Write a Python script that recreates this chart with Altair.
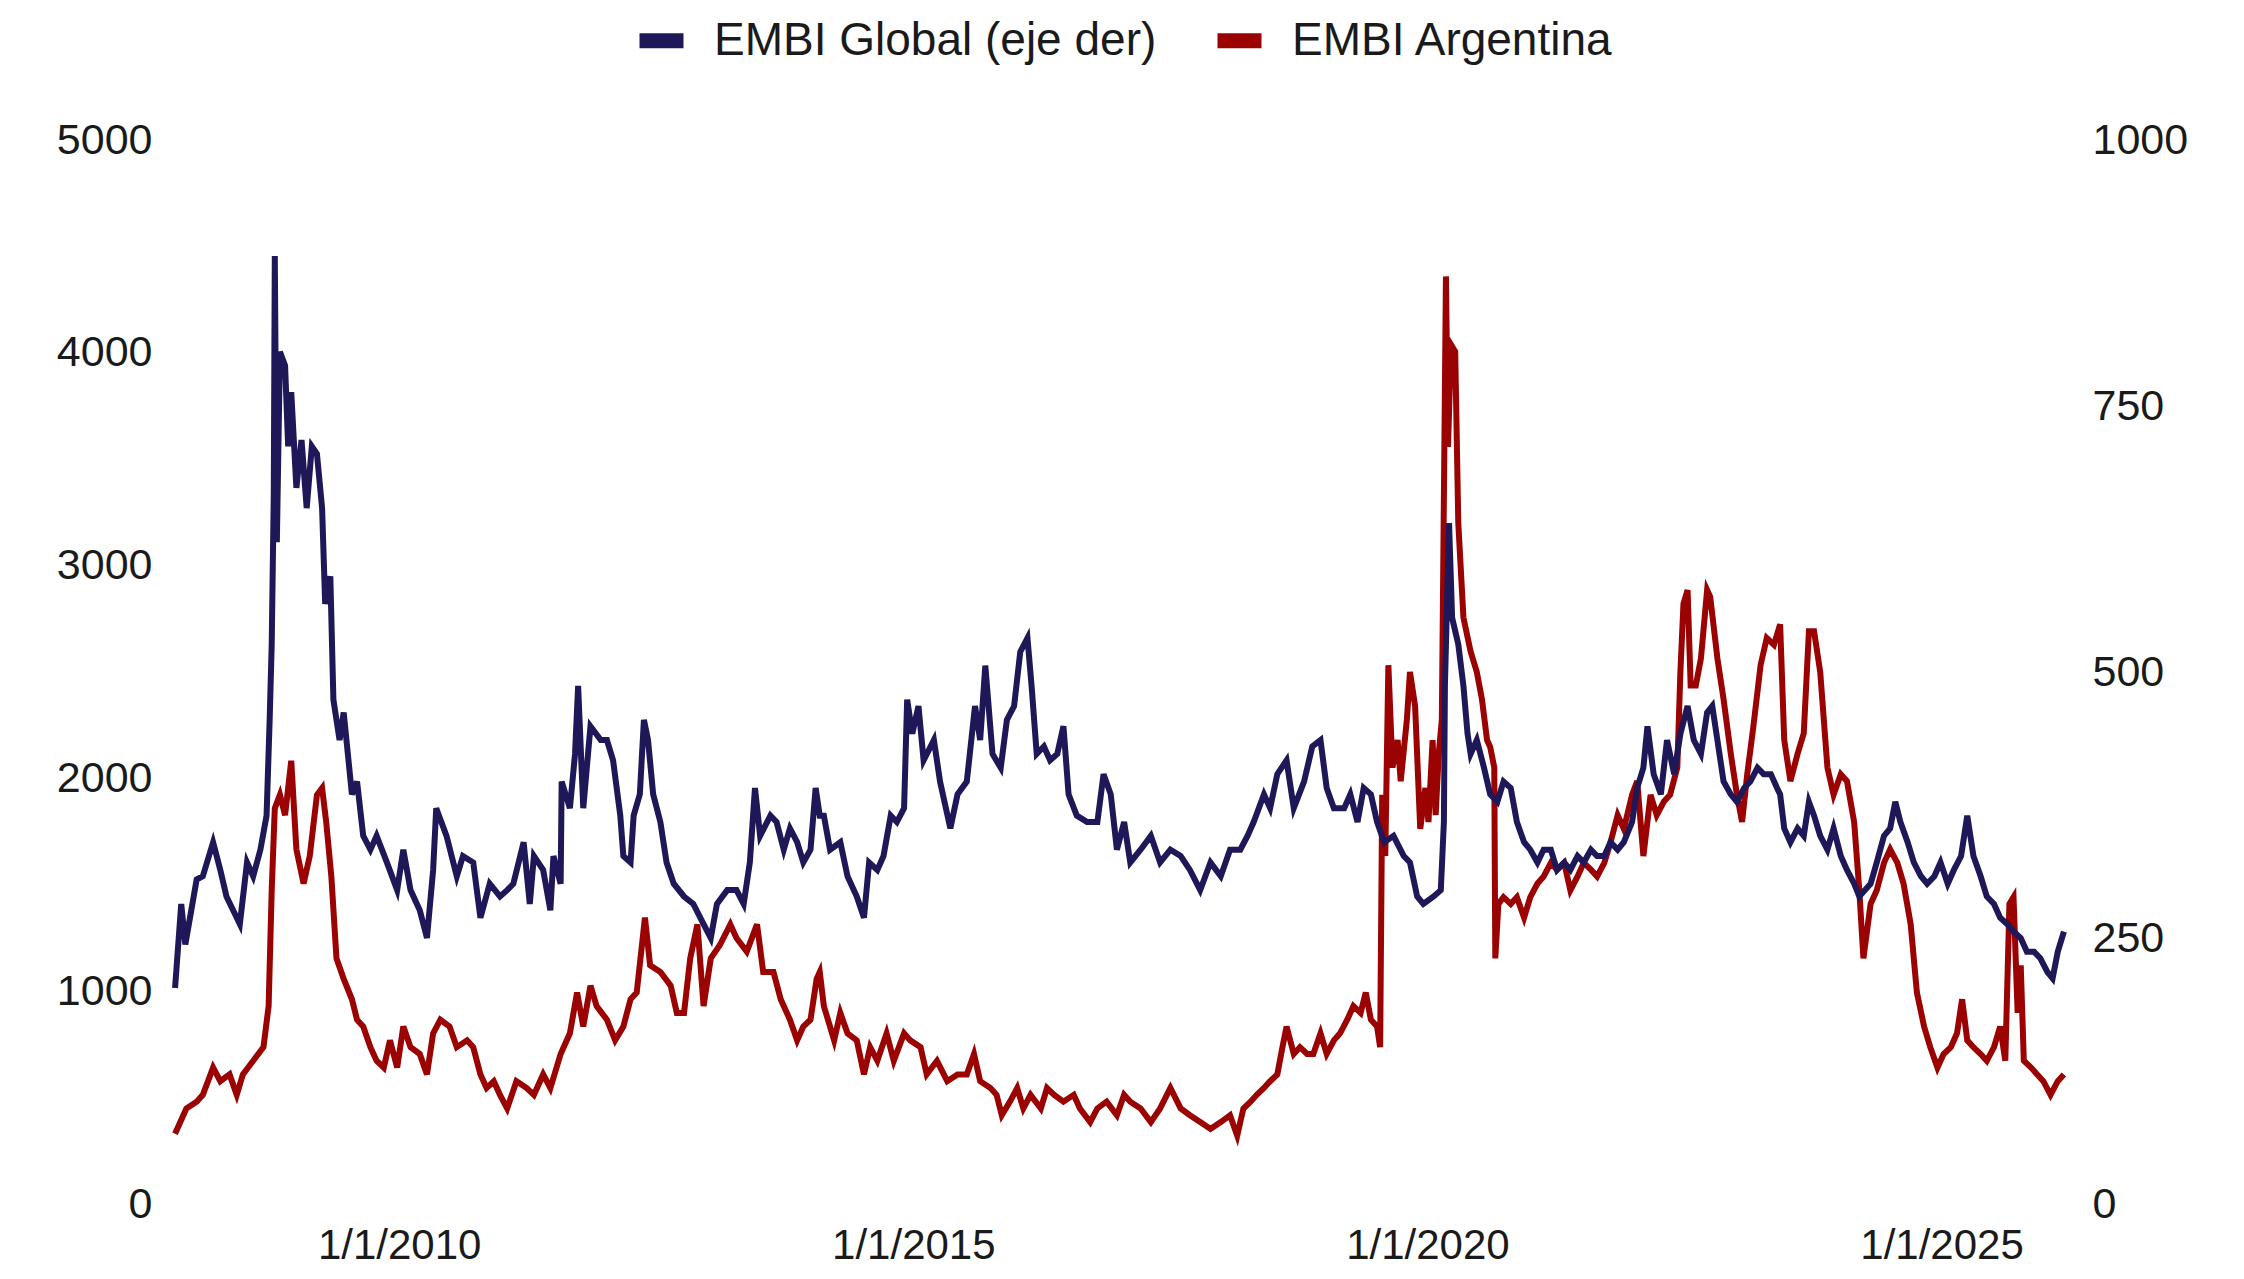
import altair as alt
import pandas as pd

# ---- EMBI Global (right axis, bp) : decimal year, value ----
global_year = [
    2007.82, 2007.88, 2007.92, 2008.03, 2008.09, 2008.19, 2008.26, 2008.32, 2008.42, 2008.45,
    2008.52, 2008.58, 2008.65, 2008.71, 2008.74, 2008.76, 2008.78, 2008.79, 2008.81, 2008.84,
    2008.89, 2008.92, 2008.95, 2009.00, 2009.05, 2009.10, 2009.15, 2009.20, 2009.25, 2009.28,
    2009.33, 2009.36, 2009.42, 2009.46, 2009.54, 2009.59, 2009.65, 2009.72, 2009.78, 2009.88,
    2009.98, 2010.04, 2010.11, 2010.20, 2010.27, 2010.33, 2010.36, 2010.46, 2010.56, 2010.62,
    2010.72, 2010.79, 2010.88, 2010.98,
    2011.05, 2011.11, 2011.21, 2011.27, 2011.31, 2011.40, 2011.47, 2011.50, 2011.57, 2011.58,
    2011.66, 2011.71, 2011.74, 2011.79, 2011.86, 2011.96, 2012.02, 2012.08, 2012.15, 2012.18,
    2012.25, 2012.28, 2012.34, 2012.38, 2012.42, 2012.47, 2012.54, 2012.60, 2012.67, 2012.77,
    2012.86, 2012.96, 2013.03, 2013.09, 2013.19, 2013.28, 2013.35, 2013.41, 2013.46, 2013.51,
    2013.61, 2013.67, 2013.74, 2013.80, 2013.87, 2013.93, 2014.00, 2014.05, 2014.09,
    2014.13, 2014.19, 2014.29, 2014.36, 2014.45, 2014.52, 2014.57, 2014.65, 2014.71, 2014.78,
    2014.84, 2014.91, 2014.94, 2014.99, 2015.05, 2015.10, 2015.20, 2015.26, 2015.36, 2015.43,
    2015.52, 2015.60, 2015.65, 2015.70, 2015.77, 2015.85, 2015.91, 2015.98, 2016.04, 2016.11,
    2016.15, 2016.20, 2016.27, 2016.33, 2016.40, 2016.46, 2016.51, 2016.59, 2016.69, 2016.79,
    2016.85, 2016.92, 2016.98, 2017.05, 2017.11, 2017.21,
    2017.31, 2017.40, 2017.50, 2017.60, 2017.69, 2017.79, 2017.89, 2017.99, 2018.08, 2018.18,
    2018.25, 2018.31, 2018.41, 2018.47, 2018.54, 2018.63, 2018.70, 2018.80, 2018.88, 2018.96,
    2019.02, 2019.09, 2019.19, 2019.25, 2019.32, 2019.38, 2019.45, 2019.51, 2019.58, 2019.67,
    2019.77, 2019.83, 2019.90, 2019.96, 2020.06, 2020.13, 2020.16, 2020.17, 2020.21, 2020.24,
    2020.30, 2020.35, 2020.39, 2020.42, 2020.48, 2020.55, 2020.61, 2020.68, 2020.74, 2020.81,
    2020.87, 2020.94, 2021.00, 2021.07, 2021.13, 2021.20, 2021.26, 2021.33, 2021.39, 2021.46,
    2021.52, 2021.59, 2021.65, 2021.72, 2021.78, 2021.85, 2021.91, 2021.99, 2022.04, 2022.10,
    2022.14, 2022.20, 2022.27, 2022.33, 2022.40, 2022.46, 2022.53, 2022.59, 2022.66, 2022.72,
    2022.77, 2022.82, 2022.88, 2022.95, 2023.01, 2023.08, 2023.14, 2023.21, 2023.27, 2023.34,
    2023.40, 2023.43, 2023.47, 2023.53, 2023.60, 2023.66, 2023.71, 2023.76, 2023.82, 2023.89,
    2023.95, 2024.02, 2024.08, 2024.15, 2024.20, 2024.31, 2024.37, 2024.44, 2024.50, 2024.55,
    2024.60, 2024.67, 2024.73, 2024.80, 2024.86, 2024.93, 2024.99, 2025.06, 2025.12, 2025.19,
    2025.25, 2025.31, 2025.38, 2025.44, 2025.51, 2025.57, 2025.64, 2025.70, 2025.77, 2025.83,
    2025.90, 2025.96, 2026.03, 2026.08, 2026.13, 2026.19,
]
global_value = [
    203, 282, 244, 305, 308, 340, 314, 289, 269, 263,
    321, 308, 333, 365, 455, 526, 667, 891, 622, 801,
    788, 712, 763, 673, 718, 654, 712, 705, 654, 564,
    590, 474, 436, 462, 385, 397, 346, 333, 346, 321,
    295, 333, 295, 276, 250, 314, 372, 346, 308, 327,
    321, 269, 301, 289,
    295, 301, 340, 282, 327, 314, 276, 327, 301, 397,
    372, 423, 487, 372, 449, 436, 436, 417, 365, 327,
    321, 365, 385, 455, 436, 385, 359, 321, 301, 289,
    282, 263, 250, 282, 295, 295, 282, 321, 391, 346,
    365, 359, 333, 353, 340, 321, 333, 391, 365,
    365, 333, 340, 308, 289, 269, 321, 314, 327, 365,
    359, 372, 474, 442, 468, 417, 436, 397, 353, 385,
    397, 468, 436, 506, 423, 410, 455, 468, 519, 532,
    487, 423, 430, 417, 423, 449, 385, 365, 359, 359,
    404, 385, 333, 359, 321, 333,
    346, 321, 333, 327, 314, 295, 321, 308, 333, 333,
    346, 359, 385, 372, 404, 417, 372, 397, 430, 436,
    391, 372, 372, 385, 359, 391, 385, 359, 340, 346,
    327, 321, 289, 282, 289, 295, 359, 487, 640, 551,
    526, 487, 442, 423, 436, 410, 385, 378, 397, 391,
    359, 340, 333, 321, 333, 333, 314, 321, 314, 327,
    321, 333, 327, 327, 340, 333, 340, 359, 391, 410,
    449, 404, 385, 436, 404, 442, 468, 436, 423, 462,
    468, 436, 397, 385, 378, 391, 397, 410, 404, 404,
    391, 385, 353, 340, 353, 346, 378, 365, 346, 333,
    353, 327, 314, 301, 289, 301, 321, 346, 353, 378,
    359, 340, 321, 308, 301, 308, 321, 301, 314, 327,
    365, 327, 308, 289, 282, 269, 263, 256, 250, 237,
    237, 231, 218, 212, 237, 256,
]

# ---- EMBI Argentina (left axis, bp) : decimal year, value ----
arg_year = [
    2007.82, 2007.93, 2008.03, 2008.09, 2008.19, 2008.26, 2008.35, 2008.42, 2008.48, 2008.58,
    2008.68, 2008.73, 2008.76, 2008.79, 2008.84, 2008.89, 2008.95, 2009.00, 2009.07, 2009.13,
    2009.20, 2009.25, 2009.29, 2009.34, 2009.39, 2009.46, 2009.54, 2009.59, 2009.65, 2009.72,
    2009.78, 2009.85, 2009.91, 2009.98, 2010.04, 2010.11, 2010.20, 2010.27, 2010.33, 2010.40,
    2010.49, 2010.56, 2010.66, 2010.72, 2010.79, 2010.85, 2010.92, 2010.98,
    2011.05, 2011.14, 2011.24, 2011.31, 2011.40, 2011.47, 2011.57, 2011.66, 2011.73, 2011.79,
    2011.86, 2011.92, 2012.02, 2012.10, 2012.18, 2012.25, 2012.31, 2012.39, 2012.44, 2012.54,
    2012.64, 2012.70, 2012.77, 2012.83, 2012.90, 2012.96, 2013.03, 2013.12, 2013.22, 2013.28,
    2013.38, 2013.48, 2013.54, 2013.64, 2013.71, 2013.80, 2013.87, 2013.93, 2014.00, 2014.06,
    2014.09,
    2014.13, 2014.23, 2014.29, 2014.36, 2014.45, 2014.52, 2014.58, 2014.65, 2014.74, 2014.81,
    2014.91, 2014.97, 2015.07, 2015.13, 2015.23, 2015.33, 2015.43, 2015.52, 2015.59, 2015.65,
    2015.75, 2015.81, 2015.86, 2015.94, 2016.01, 2016.07, 2016.14, 2016.24, 2016.30, 2016.37,
    2016.46, 2016.56, 2016.62, 2016.72, 2016.79, 2016.88, 2016.98, 2017.05, 2017.11, 2017.21,
    2017.31, 2017.40, 2017.50, 2017.60, 2017.69, 2017.79, 2017.89, 2017.99, 2018.08, 2018.15,
    2018.21, 2018.28, 2018.34, 2018.41, 2018.47, 2018.54, 2018.59, 2018.63, 2018.70, 2018.76,
    2018.83, 2018.89, 2018.96, 2019.02, 2019.09, 2019.15, 2019.22, 2019.28, 2019.35, 2019.40,
    2019.45, 2019.51, 2019.54, 2019.56, 2019.59, 2019.62, 2019.66, 2019.71, 2019.74, 2019.80,
    2019.83, 2019.88, 2019.93, 2019.98, 2020.01, 2020.05, 2020.08, 2020.11, 2020.14, 2020.18,
    2020.20, 2020.23, 2020.27, 2020.30, 2020.35, 2020.42, 2020.48, 2020.53, 2020.58, 2020.61,
    2020.65, 2020.66, 2020.69, 2020.74, 2020.81, 2020.87, 2020.94, 2021.00, 2021.07, 2021.13,
    2021.20, 2021.26, 2021.33, 2021.39, 2021.46, 2021.52, 2021.59, 2021.65, 2021.72, 2021.78,
    2021.85, 2021.91, 2021.99, 2022.04, 2022.10, 2022.17, 2022.23, 2022.30, 2022.36, 2022.43,
    2022.46, 2022.49, 2022.53, 2022.56, 2022.61, 2022.66, 2022.72, 2022.75, 2022.82, 2022.88,
    2022.95, 2023.01, 2023.06, 2023.11, 2023.17, 2023.24, 2023.30, 2023.37, 2023.43,
    2023.47, 2023.53, 2023.60, 2023.66, 2023.71, 2023.76, 2023.82, 2023.89, 2023.95, 2024.02,
    2024.08, 2024.15, 2024.20, 2024.24, 2024.31, 2024.37, 2024.44, 2024.50, 2024.57, 2024.63,
    2024.70, 2024.76, 2024.83, 2024.89, 2024.96, 2025.02, 2025.09, 2025.15, 2025.20, 2025.25,
    2025.31, 2025.38, 2025.44, 2025.51, 2025.57, 2025.62, 2025.66, 2025.70, 2025.74, 2025.77,
    2025.80, 2025.87, 2025.93, 2025.99, 2026.06, 2026.13, 2026.19,
]
arg_value = [
    330, 449, 481, 513, 641, 577, 609, 513, 609, 673,
    737, 930, 1475, 1859, 1923, 1827, 2083, 1667, 1506, 1635,
    1923, 1955, 1795, 1539, 1154, 1058, 962, 866, 834, 737,
    673, 641, 769, 641, 834, 737, 705, 609, 802, 866,
    834, 737, 769, 737, 609, 545, 577, 513,
    449, 577, 545, 513, 609, 545, 705, 802, 994, 834,
    1026, 930, 866, 769, 834, 962, 994, 1346, 1122, 1090,
    1026, 898, 898, 1154, 1314, 930, 1154, 1218, 1314, 1250,
    1186, 1314, 1090, 1090, 962, 866, 769, 834, 866, 1058,
    1090,
    930, 769, 898, 802, 769, 609, 737, 673, 802, 673,
    802, 769, 737, 609, 673, 577, 609, 609, 705, 577,
    545, 513, 417, 481, 545, 449, 513, 449, 545, 513,
    481, 513, 449, 385, 449, 481, 417, 513, 481, 449,
    385, 449, 545, 449, 417, 385, 353, 385, 417, 321,
    449, 481, 513, 545, 577, 609, 737, 834, 705, 737,
    705, 705, 802, 705, 769, 802, 866, 930, 898, 994,
    866, 834, 737, 1923, 1635, 2532, 2051, 2180, 1987, 2276,
    2500, 2340, 1763, 1955, 1795, 2180, 1827, 2116, 2276, 4359,
    3558, 4038, 4006, 3200, 2756, 2596, 2500, 2372, 2180, 2148,
    2051, 1154, 1410, 1442, 1410, 1442, 1346, 1442, 1506, 1539,
    1603, 1571, 1603, 1474, 1539, 1603, 1571, 1539, 1603, 1699,
    1827, 1763, 1923, 1987, 1635, 1923, 1827, 1891, 1923, 2051,
    2500, 2821, 2885, 2436, 2436, 2564, 2885, 2853, 2564, 2372,
    2116, 1923, 1795, 2019, 2244, 2532, 2660, 2628, 2724,
    2180, 1987, 2116, 2212, 2692, 2692, 2500, 2051, 1923, 2019,
    1987, 1795, 1474, 1154, 1410, 1474, 1603, 1667, 1603, 1506,
    1314, 994, 834, 737, 641, 705, 737, 802, 962, 769,
    737, 705, 673, 737, 834, 673, 1410, 1442, 898, 1122,
    673, 641, 609, 577, 513, 577, 609,
]

series_names = ["EMBI Global (eje der)", "EMBI Argentina"]
series_colors = ["#1f1858", "#9b0303"]
left_ticks = [0, 1000, 2000, 3000, 4000, 5000]
right_ticks = [0, 250, 500, 750, 1000]
x_ticks = [2010, 2015, 2020, 2025]

df = pd.concat([
    pd.DataFrame({"year": global_year, "value": global_value, "serie": series_names[0]}),
    pd.DataFrame({"year": arg_year, "value": arg_value, "serie": series_names[1]}),
], ignore_index=True)

FONT = "Liberation Sans"
TXT = "#1a1a1a"

x_enc = alt.X(
    "year:Q",
    scale=alt.Scale(domain=[2007.80, 2026.22], nice=False, zero=False),
    axis=alt.Axis(values=x_ticks, labelExpr="'1/1/' + datum.value", title=None,
                  grid=False, ticks=False, tickSize=0, domain=False, labelPadding=21,
                  labelFontSize=42, labelFont=FONT, labelColor=TXT,
                  labelOverlap=False, labelFlush=False),
)

color_enc = alt.Color(
    "serie:N",
    scale=alt.Scale(domain=series_names, range=series_colors),
    legend=alt.Legend(orient="none", legendX=459, legendY=-129, direction="horizontal",
                      title=None, symbolType="stroke", symbolStrokeWidth=15, symbolSize=1936,
                      labelFontSize=46, labelFont=FONT, labelColor=TXT, labelOffset=23,
                      columnPadding=30, padding=0, labelLimit=0),
)

base = alt.Chart(df)

arg_line = base.transform_filter(alt.datum.serie == series_names[1]).mark_line(
    strokeWidth=6, strokeJoin="miter"
).encode(
    x=x_enc,
    y=alt.Y("value:Q", scale=alt.Scale(domain=[0, 5000], nice=False),
            axis=alt.Axis(orient="left", values=left_ticks, format="d", title=None, grid=False,
                          ticks=False, tickSize=0, domain=False, labelPadding=21,
                          labelFontSize=43, labelFont=FONT, labelColor=TXT)),
    color=color_enc,
)

glob_line = base.transform_filter(alt.datum.serie == series_names[0]).mark_line(
    strokeWidth=6, strokeJoin="miter"
).encode(
    x=x_enc,
    y=alt.Y("value:Q", scale=alt.Scale(domain=[0, 1000], nice=False),
            axis=alt.Axis(orient="right", values=right_ticks, format="d", title=None, grid=False,
                          ticks=False, tickSize=0, domain=False, labelPadding=25,
                          labelFontSize=43, labelFont=FONT, labelColor=TXT)),
    color=color_enc,
)

chart = alt.layer(arg_line, glob_line).resolve_scale(y="independent").properties(
    width=1894, height=1064,
    padding={"left": 165, "top": 132, "right": 160, "bottom": 64},
    autosize=alt.AutoSizeParams(type="none"),
    background="white",
).configure_view(stroke=None)

chart.save("out.html", embed_options={"renderer": "svg", "actions": False})
